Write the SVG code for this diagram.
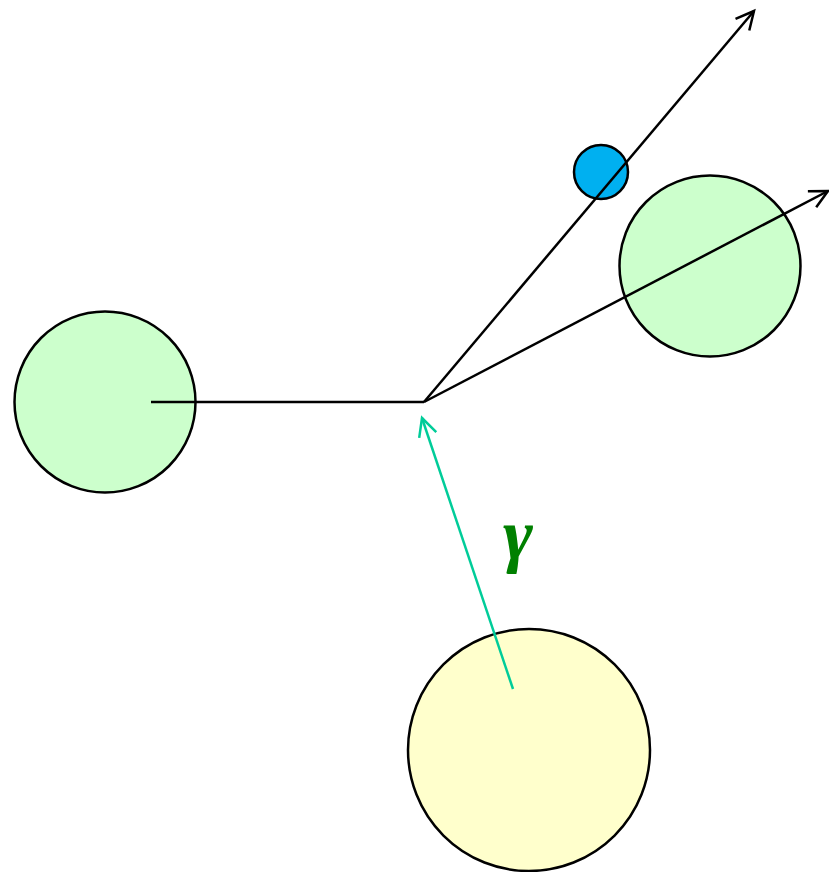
<svg xmlns="http://www.w3.org/2000/svg" width="829" height="872" viewBox="0 0 829 872">
<style>
.c{stroke:#000;stroke-width:2.5}
.g{fill:#ccffcc}
.l{fill:none;stroke:#000;stroke-width:2.5}
</style>
<defs>
<marker id="a" viewBox="0 0 24 24" refX="21" refY="12" markerWidth="24" markerHeight="24" markerUnits="userSpaceOnUse" orient="auto">
<path d="M3,3 L21,12 L3,21" fill="none" stroke="#000" stroke-width="2.5"/>
</marker>
<marker id="t" viewBox="0 0 24 24" refX="21" refY="12" markerWidth="24" markerHeight="24" markerUnits="userSpaceOnUse" orient="auto">
<path d="M3,3 L21,12 L3,21" fill="none" stroke="#00cc99" stroke-width="2.5"/>
</marker>
</defs>
<g id="left"><circle class="c g" cx="105" cy="402" r="90.5"/></g>
<g id="right"><circle class="c g" cx="710" cy="266" r="90.5"/></g>
<g id="yellow"><circle class="c" fill="#ffffcc" cx="529" cy="750" r="121"/></g>
<g id="blue"><circle class="c" fill="#00b0f0" cx="601" cy="172" r="27"/></g>
<g id="connectors">
<line class="l" x1="151" y1="402" x2="424" y2="402"/>
<line class="l" x1="424" y1="402" x2="754" y2="11" marker-end="url(#a)"/>
<line class="l" x1="424" y1="402" x2="828" y2="191" marker-end="url(#a)"/>
<line fill="none" stroke="#00cc99" stroke-width="2.5" x1="513" y1="689" x2="422" y2="418" marker-end="url(#t)"/>
</g>
<text x="518" y="559" text-anchor="middle" font-family="Liberation Serif, serif" font-weight="bold" font-style="italic" font-size="72" fill="#008000">γ</text>
</svg>
